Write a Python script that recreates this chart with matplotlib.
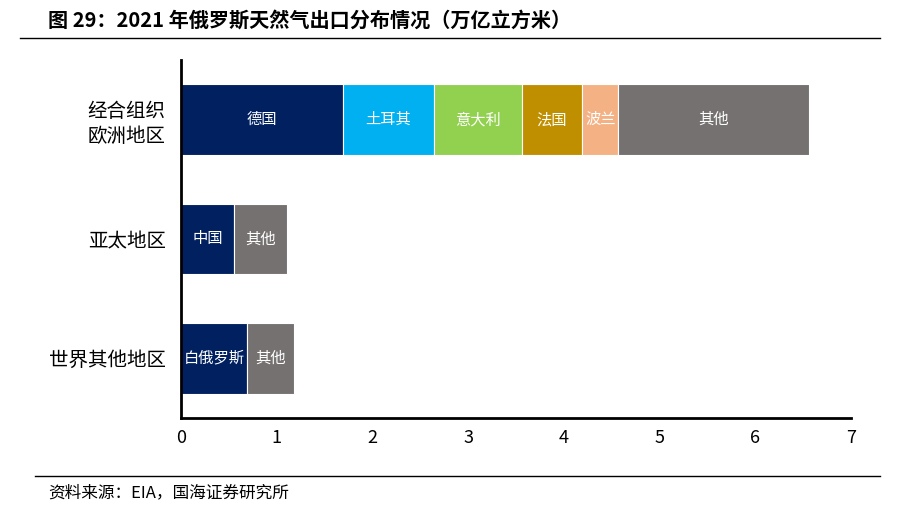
import matplotlib.pyplot as plt
import numpy as np

plt.rcParams['font.family'] = ['Noto Sans CJK SC', 'DejaVu Sans']

# 数据(万亿立方米)
regions = ['经合组织\n欧洲地区', '亚太地区', '世界其他地区']
seg_names = [
    ['德国', '土耳其', '意大利', '法国', '波兰', '其他'],
    ['中国', '其他'],
    ['白俄罗斯', '其他'],
]
seg_values = [
    [1.69, 0.95, 0.92, 0.63, 0.38, 1.99],
    [0.55, 0.56],
    [0.69, 0.49],
]
seg_colors = [
    ['#002060', '#00B0F0', '#92D050', '#BF8F00', '#F4B183', '#767171'],
    ['#002060', '#767171'],
    ['#002060', '#767171'],
]

fig = plt.figure(figsize=(9.12, 5.23), dpi=100)
ax = fig.add_axes([0.1985, 0.2008, 0.7346, 0.6845])

for i, (names, vals, cols) in enumerate(zip(seg_names, seg_values, seg_colors)):
    left = 0
    for name, v, c in zip(names, vals, cols):
        ax.barh(i, v, left=left, height=0.59, color=c, edgecolor='white', linewidth=0.8)
        ax.text(left + v / 2, i, name, ha='center', va='center', color='white', fontsize=11)
        left += v

ax.set_ylim(2.5, -0.5)
ax.set_xlim(0, 7)
ax.set_yticks(range(len(regions)))
ax.set_yticklabels(regions, fontsize=14, linespacing=1.25)
ax.set_xticks(np.arange(0, 8, 1))
ax.tick_params(axis='x', labelsize=13, length=0, pad=8)
ax.tick_params(axis='y', length=0, pad=11)
for s in ['top', 'right']:
    ax.spines[s].set_visible(False)
ax.spines['left'].set_linewidth(2)
ax.spines['bottom'].set_linewidth(2)

# 标题与来源
fig.text(48 / 912, 1 - 20 / 523, '图 29：2021 年俄罗斯天然气出口分布情况（万亿立方米）',
         fontsize=14.5, fontweight='bold', va='center', ha='left')
fig.add_artist(plt.Line2D([20 / 912, 880 / 912], [1 - 38 / 523, 1 - 38 / 523], color='black', lw=1))
fig.add_artist(plt.Line2D([35 / 912, 880 / 912], [1 - 476 / 523, 1 - 476 / 523], color='black', lw=1))
fig.text(48 / 912, 1 - 493 / 523, '资料来源：EIA，国海证券研究所', fontsize=12, va='center', ha='left')

fig.savefig('out.png', dpi=100)
